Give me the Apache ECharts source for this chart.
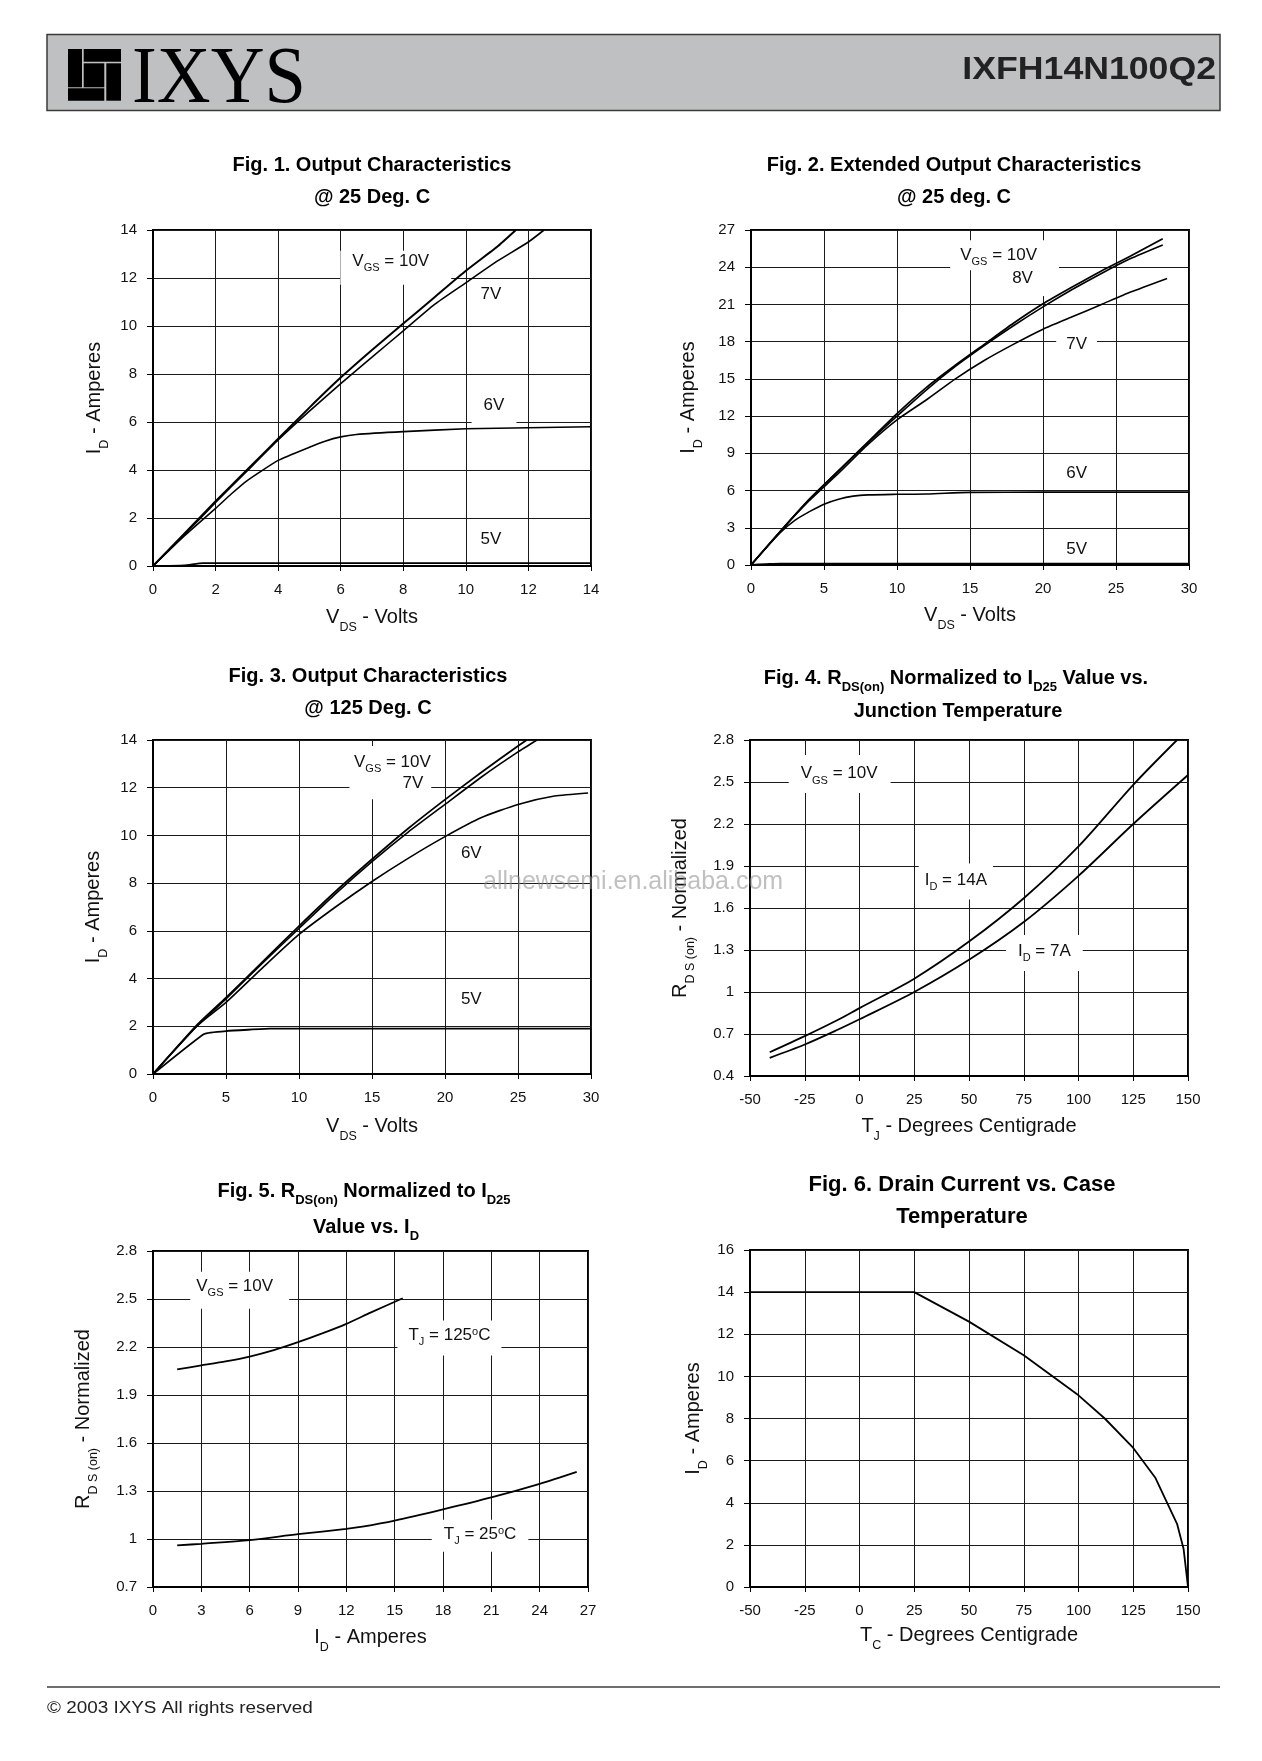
<!DOCTYPE html>
<html><head><meta charset="utf-8">
<script src="https://cdn.jsdelivr.net/npm/echarts@6/dist/echarts.min.js"></script>
<style>html,body{margin:0;padding:0;background:#fff}#c{width:1262px;height:1761px}</style>
</head><body><div id="c"></div>
<script>
// ---------- DATA ----------
// Fig 1: Output characteristics @25C  [VDS (V), ID (A)]
const fig1_vgs10 = [[0,0],[1,1.35],[2,2.7],[3,4.0],[4,5.3],[5,6.6],[6,7.85],[7,9.0],[8,10.1],[9,11.2],[10,12.3],[11,13.3],[11.6,14]];
const fig1_vgs7  = [[0,0],[1,1.3],[2,2.65],[3,3.95],[4,5.25],[5,6.45],[6,7.6],[7,8.7],[8,9.8],[9,10.9],[10,11.8],[11,12.7],[12,13.5],[12.5,14]];
const fig1_vgs6  = [[0,0],[1,1.25],[2,2.4],[2.5,3.0],[3,3.55],[4,4.4],[5,4.95],[5.5,5.2],[6,5.38],[6.5,5.48],[8,5.6],[10,5.72],[12,5.76],[14,5.8]];
const fig1_vgs5  = [[0,0],[1,0.03],[1.6,0.12],[14,0.12]];
// Fig 2: Extended output characteristics @25C
const fig2_vgs10 = [[0,0],[2,2.7],[4,5.3],[6,7.6],[8,9.9],[10,12.2],[12,14.3],[14,16.1],[16,17.8],[18,19.5],[20,21.05],[22,22.4],[24,23.7],[26,24.9],[28.2,26.3]];
const fig2_vgs8  = [[0,0],[2,2.7],[4,5.3],[6,7.6],[8,9.85],[10,12.0],[12,14.1],[14,16.0],[16,17.7],[18,19.3],[20,20.8],[22,22.2],[24,23.5],[26,24.7],[28.2,25.8]];
const fig2_vgs7  = [[0,0],[2,2.7],[4,5.2],[6,7.4],[8,9.7],[10,11.7],[12,13.3],[14,15.0],[16,16.5],[18,17.8],[20,19.0],[22,20.0],[24,21.0],[26,22.0],[28.5,23.1]];
const fig2_vgs6  = [[0,0],[2,2.6],[3,3.6],[4,4.3],[5,4.9],[6,5.3],[7,5.55],[8,5.65],[10,5.7],[12,5.72],[15,5.85],[20,5.87],[30,5.87]];
const fig2_vgs5  = [[0,0],[1,0.05],[2,0.1],[30,0.1]];
// Fig 3: Output characteristics @125C
const fig3_vgs10 = [[0,0],[3,2.05],[5,3.2],[7.5,4.7],[10,6.2],[12.5,7.65],[15,9.0],[17.5,10.3],[20,11.5],[22.5,12.65],[25,13.75],[25.6,14]];
const fig3_vgs7  = [[0,0],[3,2.0],[5,3.15],[7.5,4.65],[10,6.1],[12.5,7.55],[15,8.9],[17.5,10.15],[20,11.3],[22.5,12.45],[25,13.5],[26.3,14]];
const fig3_vgs6  = [[0,0],[3,2.0],[5,3.0],[7.5,4.45],[10,5.85],[12.5,7.0],[15,8.07],[17.5,9.05],[20,9.95],[22.5,10.75],[25,11.3],[27.5,11.65],[29.8,11.78]];
const fig3_vgs5  = [[0,0],[3.5,1.68],[5,1.8],[8,1.9],[30,1.9]];
// Fig 4: RDS(on) normalized vs junction temperature  [TJ (C), R norm]
const fig4_id14 = [[-41,0.57],[-25,0.685],[-10,0.8],[0,0.885],[25,1.095],[50,1.36],[75,1.67],[100,2.04],[125,2.48],[145,2.8]];
const fig4_id7  = [[-41,0.53],[-25,0.625],[-10,0.73],[0,0.805],[25,1.0],[50,1.23],[75,1.5],[100,1.83],[125,2.2],[150,2.55]];
// Fig 5: RDS(on) normalized vs ID  [ID (A), R norm]
const fig5_tj125 = [[1.5,2.06],[3,2.085],[4.5,2.11],[6,2.14],[7.5,2.18],[9,2.23],[10.5,2.285],[12,2.345],[13.5,2.415],[15.5,2.505]];
const fig5_tj25  = [[1.5,0.96],[3,0.97],[6,0.993],[9,1.03],[12,1.063],[13,1.077],[15,1.115],[18,1.185],[21,1.26],[24,1.345],[26.3,1.42]];
// Fig 6: Drain current vs case temperature
const fig6_tc = [-50,25,50,75,100,112,125,135,140,145,148,150];
const fig6_id = [14,14,12.6,11.0,9.1,8.0,6.6,5.2,4.1,3.0,1.8,0];

// ---------- STYLES ----------
const F  = "'Liberation Sans', Arial, Helvetica, sans-serif";
const INK = '#111';
const RICH_LBL = {
  m:{fontSize:17, lineHeight:20, verticalAlign:'top', fontFamily:F, color:INK},
  s:{fontSize:11, lineHeight:11, padding:[10,0,0,0], verticalAlign:'top', fontFamily:F, color:INK},
  o:{fontSize:11, lineHeight:11, verticalAlign:'top', fontFamily:F, color:INK}
};
const RICH_AX = {
  m:{fontSize:20, lineHeight:23, verticalAlign:'top', fontFamily:F, color:INK},
  s:{fontSize:12.5, lineHeight:12, padding:[14,0,0,0], verticalAlign:'top', fontFamily:F, color:INK}
};
const RICH_T = {
  m:{fontSize:20, lineHeight:24, verticalAlign:'top', fontFamily:F, fontWeight:'bold', color:INK},
  s:{fontSize:13, lineHeight:13, padding:[13,0,0,0], verticalAlign:'top', fontFamily:F, fontWeight:'bold', color:INK}
};
const RICH_T6 = {
  m:{fontSize:22, lineHeight:26, verticalAlign:'top', fontFamily:F, fontWeight:'bold', color:INK}
};

// ---------- LAYOUT ----------
const grids = [
  {left:153, top:230, width:438, height:336},
  {left:751, top:230, width:438, height:335},
  {left:153, top:740, width:438, height:334},
  {left:750, top:740, width:438, height:336},
  {left:153, top:1251, width:435, height:336},
  {left:750, top:1250, width:438, height:337}
].map(g => Object.assign({show:true, borderColor:'#000', borderWidth:2, backgroundColor:'#fff', outerBoundsMode:'none', containLabel:false}, g));

function xAx(gi, min, max, interval, name, gap) {
  return {type:'value', gridIndex:gi, min, max, interval, name, nameLocation:'middle', nameGap:gap,
    nameTextStyle:{rich:RICH_AX, fontSize:20, fontFamily:F, color:INK},
    axisLine:{show:true, onZero:false, lineStyle:{color:'#000', width:2}},
    axisTick:{show:true, inside:false, length:5, lineStyle:{color:'#000', width:1}},
    axisLabel:{margin:16, fontSize:15, fontFamily:F, color:INK},
    splitLine:{show:true, lineStyle:{color:'#1a1a1a', width:1}}};
}
function yAx(gi, min, max, interval, name, gap) {
  return {type:'value', gridIndex:gi, min, max, interval, name, nameLocation:'middle', nameGap:gap, nameRotate:90,
    nameTextStyle:{rich:RICH_AX, fontSize:20, fontFamily:F, color:INK},
    axisLine:{show:true, onZero:false, lineStyle:{color:'#000', width:2}},
    axisTick:{show:true, inside:false, length:6, lineStyle:{color:'#000', width:1}},
    axisLabel:{margin:16, fontSize:15, fontFamily:F, color:INK},
    splitLine:{show:true, lineStyle:{color:'#1a1a1a', width:1}}};
}
// annotation text with a white box; pad = [top, right, bottom, left]; offset keeps text centred on the coord
function lbl(x, y, text, pad) {
  return {coord:[x,y], symbol:'circle', symbolSize:0,
    label:{show:true, position:'inside', formatter:text, rich:RICH_LBL, backgroundColor:'#fff', padding:pad,
      offset:[(pad[1]-pad[3])/2, (pad[2]-pad[0])/2 + 1.5]}};
}
function line(gi, data, width, smooth, marks) {
  const s = {type:'line', xAxisIndex:gi, yAxisIndex:gi, data, symbol:'none', showSymbol:false, smooth:smooth,
    lineStyle:{color:'#000', width:width}, silent:true, clip:true, z:3};
  if (marks) s.markPoint = {silent:true, animation:false, z:2, symbol:'circle', symbolSize:0, data:marks};
  return s;
}

const VGS10 = '{m|V}{s|GS}{m| = 10V}';
const series = [
  line(0, fig1_vgs10, 2, 0.15, [
    lbl(7.6, 12.7, VGS10, [2,22,12,12]),
    lbl(10.8, 11.3, '{m|7V}', [2,4,2,4]),
    lbl(10.9, 6.7, '{m|6V}', [4,12,12,12]),
    lbl(10.8, 1.1, '{m|5V}', [2,4,2,4])
  ]),
  line(0, fig1_vgs7, 1.6, 0.15),
  line(0, fig1_vgs6, 1.6, 0.15),
  line(0, fig1_vgs5, 1.8, 0.2),

  line(1, fig2_vgs10, 1.8, 0.2, [
    lbl(16.96, 25.0, VGS10, [6,22,4,10]),
    lbl(18.6, 23.1, '{m|8V}', [2,22,6,10]),
    lbl(22.3, 17.8, '{m|7V}', [3,10,3,10]),
    lbl(22.3, 7.4, '{m|6V}', [2,4,2,4]),
    lbl(22.3, 1.26, '{m|5V}', [2,4,2,4])
  ]),
  line(1, fig2_vgs8, 1.6, 0.2),
  line(1, fig2_vgs7, 1.6, 0.2),
  line(1, fig2_vgs6, 1.6, 0.3),
  line(1, fig2_vgs5, 2.2, 0.2),

  line(2, fig3_vgs10, 1.8, 0.15, [
    lbl(17.8, 12.17, '{m|7V}', [2,8,4,53]),
    lbl(16.4, 13.06, VGS10, [8,12,0,12]),
    lbl(21.8, 9.26, '{m|6V}', [2,4,2,4]),
    lbl(21.8, 3.14, '{m|5V}', [2,4,2,4])
  ]),
  line(2, fig3_vgs7, 1.6, 0.15),
  line(2, fig3_vgs6, 1.6, 0.2),
  line(2, fig3_vgs5, 1.8, 0.1),

  line(3, fig4_id14, 1.8, 0.3, [
    lbl(-9.3, 2.56, VGS10, [10,13,8,12]),
    lbl(44, 1.80, '{m|I}{s|D}{m| = 14A}', [8,6,8,6]),
    lbl(84.4, 1.29, '{m|I}{s|D}{m| = 7A}', [8,12,8,12])
  ]),
  line(3, fig4_id7, 1.8, 0.3),

  line(4, fig5_tj125, 1.8, 0.2, [
    lbl(5.07, 2.58, VGS10, [6,16,11,6]),
    lbl(18.4, 2.275, '{m|T}{s|J}{m| = 125}{o|o}{m|C}', [6,11,9,11]),
    lbl(20.3, 1.03, '{m|T}{s|J}{m| = 25}{o|o}{m|C}', [6,12,6,12])
  ]),
  line(4, fig5_tj25, 1.8, 0.3),

  {type:'line', xAxisIndex:5, yAxisIndex:5, data:fig6_tc.map((t,i)=>[t, fig6_id[i]]), symbol:'none', showSymbol:false,
   lineStyle:{color:'#000', width:1.8}, silent:true, clip:false, z:3}
];

const xAxes = [
  xAx(0, 0, 14, 2, '{m|V}{s|DS}{m| - Volts}', 41),
  xAx(1, 0, 30, 5, '{m|V}{s|DS}{m| - Volts}', 40),
  xAx(2, 0, 30, 5, '{m|V}{s|DS}{m| - Volts}', 42),
  xAx(3, -50, 150, 25, '{m|T}{s|J}{m| - Degrees Centigrade}', 40),
  xAx(4, 0, 27, 3, '{m|I}{s|D}{m| - Amperes}', 40),
  xAx(5, -50, 150, 25, '{m|T}{s|C}{m| - Degrees Centigrade}', 38)
];
const yAxes = [
  yAx(0, 0, 14, 2, '{m|I}{s|D}{m| - Amperes}', 46),
  yAx(1, 0, 27, 3, '{m|I}{s|D}{m| - Amperes}', 50),
  yAx(2, 0, 14, 2, '{m|I}{s|D}{m| - Amperes}', 47),
  yAx(3, 0.4, 2.8, 0.3, '{m|R}{s|D S (on)}{m| - Normalized}', 57),
  yAx(4, 0.7, 2.8, 0.3, '{m|R}{s|D S (on)}{m| - Normalized}', 57),
  yAx(5, 0, 16, 2, '{m|I}{s|D}{m| - Amperes}', 44)
];

// ---------- PAGE GRAPHICS ----------
function gtext(x, y, text, rich) {
  return {type:'text', x, y, z:50, silent:true, style:{text, rich, align:'center', verticalAlign:'middle'}};
}
const titles = [
  gtext(372, 167, '{m|Fig. 1. Output Characteristics}', RICH_T),
  gtext(372, 199, '{m|@ 25 Deg. C}', RICH_T),
  gtext(954, 167, '{m|Fig. 2. Extended Output Characteristics}', RICH_T),
  gtext(954, 199, '{m|@ 25 deg. C}', RICH_T),
  gtext(368, 678, '{m|Fig. 3. Output Characteristics}', RICH_T),
  gtext(368, 710, '{m|@ 125 Deg. C}', RICH_T),
  gtext(956, 680, '{m|Fig. 4. R}{s|DS(on)}{m| Normalized to I}{s|D25}{m| Value vs.}', RICH_T),
  gtext(958, 713, '{m|Junction Temperature}', RICH_T),
  gtext(364, 1193, '{m|Fig. 5. R}{s|DS(on)}{m| Normalized to I}{s|D25}', RICH_T),
  gtext(366, 1229, '{m|Value vs. I}{s|D}', RICH_T),
  gtext(962, 1187, '{m|Fig. 6. Drain Current vs. Case}', RICH_T6),
  gtext(962, 1219, '{m|Temperature}', RICH_T6)
];
const page = [
  {type:'rect', z:40, silent:true, shape:{x:47, y:34.5, width:1173, height:76}, style:{fill:'#bfc0c1', stroke:'#3a3a3a', lineWidth:1.5}},
  {type:'rect', z:41, silent:true, shape:{x:68, y:49, width:14, height:38.3}, style:{fill:'#000'}},
  {type:'rect', z:41, silent:true, shape:{x:83.7, y:49, width:37.3, height:12.7}, style:{fill:'#000'}},
  {type:'rect', z:41, silent:true, shape:{x:106.3, y:63.3, width:14.7, height:37.4}, style:{fill:'#000'}},
  {type:'rect', z:41, silent:true, shape:{x:68, y:88.3, width:36.3, height:12.4}, style:{fill:'#000'}},
  {type:'rect', z:41, silent:true, shape:{x:83.7, y:63.3, width:20.6, height:24}, style:{fill:'#000'}},
  {type:'text', z:41, silent:true, x:132, y:81, scaleX:0.92,
    style:{text:'IXYS', font:"81px 'Liberation Serif', 'Times New Roman', serif", fill:'#000', align:'left', verticalAlign:'middle'}},
  {type:'text', z:41, silent:true, x:1216, y:70.5, scaleX:1.15,
    style:{text:'IXFH14N100Q2', font:"bold 31px 'Liberation Sans', Arial, sans-serif", fill:'#222', align:'right', verticalAlign:'middle'}},
  {type:'line', z:41, silent:true, shape:{x1:47, y1:1687, x2:1220, y2:1687}, style:{stroke:'#6e6e6e', lineWidth:2}},
  {type:'text', z:41, silent:true, x:47, y:1709, scaleX:1.18,
    style:{text:'© 2003 IXYS All rights reserved', font:"16px 'Liberation Sans', Arial, sans-serif", fill:'#222', align:'left', verticalAlign:'middle'}},
  {type:'text', z:60, silent:true, x:483, y:882,
    style:{text:'allnewsemi.en.alibaba.com', font:"25px 'Liberation Sans', Arial, sans-serif", fill:'rgba(140,140,140,0.55)', align:'left', verticalAlign:'middle'}}
];

const chart = echarts.init(document.getElementById('c'), null, {renderer:'canvas', width:1262, height:1761});
chart.setOption({
  animation:false,
  backgroundColor:'#fff',
  grid: grids,
  xAxis: xAxes,
  yAxis: yAxes,
  series: series,
  graphic: page.concat(titles)
});
</script>
</body></html>
